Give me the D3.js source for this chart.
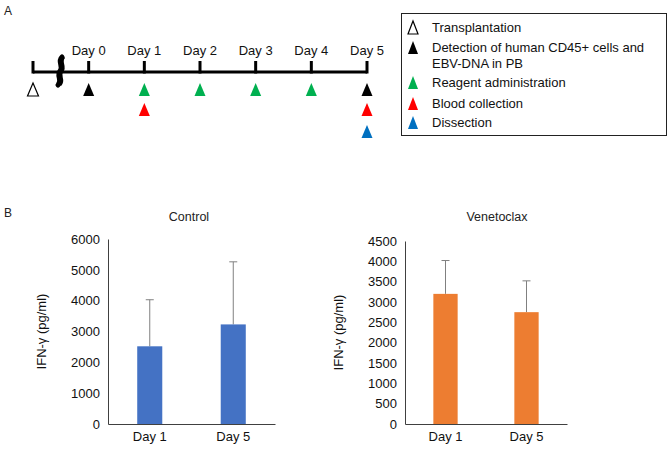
<!DOCTYPE html>
<html><head><meta charset="utf-8">
<script src="https://cdn.jsdelivr.net/npm/d3@7"></script>
<style>body{margin:0;background:#fff}svg{display:block;font-family:"Liberation Sans",Arial,sans-serif}</style>
</head><body><svg id="c" width="669" height="450"></svg>
<script>
// ---- Data ----
const timelineDays = ["Day 0","Day 1","Day 2","Day 3","Day 4","Day 5"];
const timelineIdx = [0,1,2,3,4,5];
// events: day index (-1 = transplantation), row, type
const eventDay = [-1, 0, 1, 2, 3, 4, 5, 1, 5, 5];
const eventRow = [0, 0, 0, 0, 0, 0, 0, 1, 1, 2];
const eventType = ["transplant","detect","reagent","reagent","reagent","reagent","detect","blood","blood","dissect"];
const legendTypes = ["transplant","detect","reagent","blood","dissect"];
const legendLabels = [["Transplantation"],["Detection of human CD45+ cells and","EBV-DNA in PB"],["Reagent administration"],["Blood collection"],["Dissection"]];
const typeColor = {transplant:"#fff", detect:"#000", reagent:"#00B050", blood:"#FF0000", dissect:"#0070C0"};

const barCategories = ["Day 1","Day 5"];
const controlMean = [2520, 3230];
const controlSD = [1510, 2030];
const venMean = [3200, 2750];
const venSD = [820, 770];
const controlTicks = [0,1000,2000,3000,4000,5000,6000];
const venTicks = [0,500,1000,1500,2000,2500,3000,3500,4000,4500];

const svg = d3.select("#c");

// ---- Panel A ----
svg.append("text").attr("x",4).attr("y",15).attr("font-size",12).attr("fill","#222").text("A");
const tx = d3.scaleLinear().domain([-1,5]).range([33,367]);
const lineY = 72;
svg.append("line").attr("x1",tx(-1)).attr("x2",tx(5)).attr("y1",lineY).attr("y2",lineY)
  .attr("stroke","#000").attr("stroke-width",3);
svg.selectAll(".tk").data([-1].concat(timelineIdx)).join("line")
  .attr("x1",d=>tx(d)).attr("x2",d=>tx(d)).attr("y1",lineY+1.5).attr("y2",lineY-11)
  .attr("stroke","#000").attr("stroke-width",3);
svg.selectAll(".dl").data(timelineIdx).join("text")
  .attr("x",d=>tx(d)).attr("y",55).attr("text-anchor","middle").attr("font-size",13).attr("fill","#111")
  .text((d,i)=>timelineDays[i]);
// break symbol
svg.append("path").attr("d","M62,57 C57,62 64,66 60,71 C56,76 63,80 58,85")
  .attr("fill","none").attr("stroke","#000").attr("stroke-width",5).attr("stroke-linecap","round");
svg.append("path").attr("d","M62,57 C57,62 64,66 60,71 C56,76 63,80 58,85")
  .attr("fill","none").attr("stroke","#000").attr("stroke-width",3).attr("transform","translate(2,0)");

const tri = (cx, top, w, h) => `M${cx},${top} L${cx+w/2},${top+h} L${cx-w/2},${top+h} Z`;
const rowTop = [83, 103, 125];
svg.selectAll(".ev").data(eventDay).join("path")
  .attr("d",(d,i)=>tri(tx(d), rowTop[eventRow[i]], 11, 13))
  .attr("fill",(d,i)=>typeColor[eventType[i]])
  .attr("stroke",(d,i)=>eventType[i]==="transplant"?"#000":"none").attr("stroke-width",1.2);

// legend
svg.append("rect").attr("x",401.5).attr("y",13.5).attr("width",265).attr("height",122)
  .attr("fill","#fff").attr("stroke","#222").attr("stroke-width",1);
const legY = [21, 41, 76, 97, 116];
legendTypes.forEach((t,i)=>{
  svg.append("path").attr("d",tri(413, legY[i], 10, 13)).attr("fill",typeColor[t])
    .attr("stroke",t==="transplant"?"#000":"none").attr("stroke-width",1.2);
  legendLabels[i].forEach((s,j)=>{
    svg.append("text").attr("x",432).attr("y",legY[i]+11+j*16).attr("font-size",13).attr("fill","#111").text(s);
  });
});

// ---- Panel B ----
svg.append("text").attr("x",4).attr("y",217).attr("font-size",12).attr("fill","#222").text("B");

function barChart(opts){
  const {x0,x1,yTop,yBot,max,ticks,mean,sd,color,title,titleX,labelX} = opts;
  const g = svg.append("g");
  const x = d3.scaleBand().domain(barCategories).range([x0,x1]).paddingInner(0.7).paddingOuter(0.35);
  const y = d3.scaleLinear().domain([0,max]).range([yBot,yTop]);
  g.append("text").attr("x",titleX).attr("y",221).attr("text-anchor","middle").attr("font-size",12.5).attr("fill","#222").text(title);
  const ya = g.append("g").attr("transform",`translate(${x0},0)`)
    .call(d3.axisLeft(y).tickValues(ticks).tickSize(0).tickPadding(8).tickFormat(d3.format("d")));
  ya.select(".domain").attr("stroke","#404040");
  ya.selectAll("text").attr("font-size",13).attr("fill","#111").attr("font-family","Liberation Sans, Arial, sans-serif");
  const xa = g.append("g").attr("transform",`translate(0,${yBot})`)
    .call(d3.axisBottom(x).tickSize(0).tickPadding(8));
  xa.select(".domain").attr("stroke","#404040");
  xa.selectAll("text").attr("font-size",13).attr("fill","#111").attr("font-family","Liberation Sans, Arial, sans-serif");
  // error bars (upper only), drawn behind bars
  g.selectAll(".eb").data(barCategories).join("line")
    .attr("x1",d=>x(d)+x.bandwidth()/2).attr("x2",d=>x(d)+x.bandwidth()/2)
    .attr("y1",(d,i)=>y(mean[i])).attr("y2",(d,i)=>y(mean[i]+sd[i]))
    .attr("stroke","#808080").attr("stroke-width",1);
  g.selectAll(".ec").data(barCategories).join("line")
    .attr("x1",d=>x(d)+x.bandwidth()/2-4).attr("x2",d=>x(d)+x.bandwidth()/2+4)
    .attr("y1",(d,i)=>y(mean[i]+sd[i])).attr("y2",(d,i)=>y(mean[i]+sd[i]))
    .attr("stroke","#808080").attr("stroke-width",1);
  g.selectAll(".bar").data(barCategories).join("rect")
    .attr("x",d=>x(d)).attr("width",x.bandwidth())
    .attr("y",(d,i)=>y(mean[i])).attr("height",(d,i)=>yBot-y(mean[i]))
    .attr("fill",color);
  g.append("text").attr("transform",`translate(${labelX},${(yTop+yBot)/2}) rotate(-90)`)
    .attr("text-anchor","middle").attr("font-size",13).attr("fill","#111").text("IFN-γ (pg/ml)");
}
barChart({x0:108,x1:275,yTop:239,yBot:424,max:6000,ticks:controlTicks,mean:controlMean,sd:controlSD,
  color:"#4472C4",title:"Control",titleX:189,labelX:46});
barChart({x0:405,x1:567,yTop:241,yBot:424,max:4500,ticks:venTicks,mean:venMean,sd:venSD,
  color:"#ED7D31",title:"Venetoclax",titleX:497,labelX:343});
</script></body></html>
